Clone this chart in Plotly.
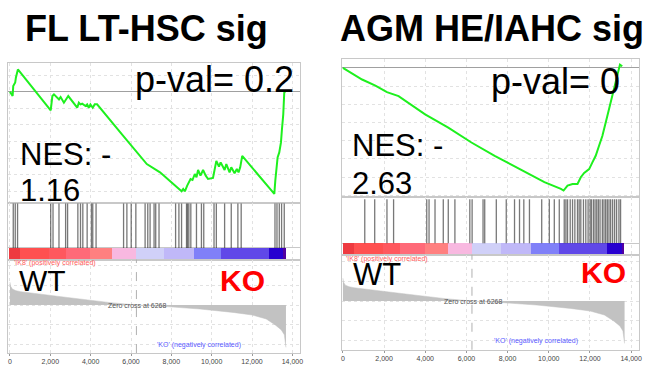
import plotly.graph_objects as go

W, H = 653, 365

# ---------------- data ----------------
rank_ticks = [0, 2000, 4000, 6000, 8000, 10000, 12000, 14000]
rank_tick_labels = ["0", "2,000", "4,000", "6,000", "8,000", "10,000", "12,000", "14,000"]
zero_cross = 6268
list_len = 13680

# FL LT-HSC running enrichment score (rank, ES)
fl_es_rank = [0, 133, 163, 261, 296, 394, 2020, 2103, 2182, 2430, 2512, 2675, 2890, 3335, 3415,
              3497, 3580, 3744, 3827, 3907, 3990, 4103, 4202, 4320, 5552, 6783, 7438, 8340,
              8507, 8587, 8670, 8785, 8884, 8950, 9049, 9162, 9246, 9325, 9443, 9572, 9704,
              9818, 10064, 10230, 10360, 10443, 10640, 10724, 10886, 10970, 11133, 11247,
              11330, 11413, 11512, 13103, 13152, 13266, 13349, 13433, 13482, 13547, 13596, 13640]
fl_es = [0.0, -0.026, 0.034, 0.056, 0.086, 0.134, -0.112, -0.026, -0.016, -0.046, -0.032, -0.066,
         -0.026, -0.096, -0.066, -0.076, -0.072, -0.086, -0.076, -0.096, -0.076, -0.096, -0.076,
         -0.076, -0.256, -0.435, -0.485, -0.585, -0.599, -0.585, -0.599, -0.565, -0.545, -0.525,
         -0.531, -0.495, -0.515, -0.471, -0.505, -0.471, -0.505, -0.525, -0.519, -0.416, -0.451,
         -0.425, -0.471, -0.435, -0.485, -0.455, -0.491, -0.465, -0.485, -0.455, -0.386, -0.615,
         -0.535, -0.395, -0.365, -0.305, -0.226, -0.136, -0.006, 0.0]
fl_hits = [164, 263, 378, 2020, 2135, 2430, 2759, 2857, 3366, 3497, 3612, 3826, 4039, 4105, 4269,
           5632, 5796, 6010, 6240, 6699, 6831, 6946, 7143, 7225, 7389, 8210, 8374, 8506, 8752,
           8801, 8867, 8965, 9245, 9491, 9606, 10115, 10230, 10640, 10969, 11297, 11461, 13136,
           13235, 13350, 13464, 13596]

# AGM HE/IAHC running enrichment score (rank, ES)
agm_es_rank = [0, 933, 1578, 2140, 2704, 3993, 5118, 6243, 7372, 8338, 8980, 9787, 10588, 10718,
               10911, 11153, 11394, 11554, 11717, 11959, 12118, 12278, 12441, 12601, 12843, 13084,
               13292, 13456, 13567]
agm_es = [0.0, -0.064, -0.097, -0.133, -0.155, -0.255, -0.328, -0.41, -0.483, -0.541, -0.583,
          -0.628, -0.665, -0.674, -0.647, -0.638, -0.638, -0.601, -0.577, -0.556, -0.519, -0.483,
          -0.428, -0.374, -0.264, -0.155, -0.064, 0.018, 0.009]
agm_hits = [1062, 1545, 2140, 2462, 4072, 4184, 4474, 4876, 5118, 5440, 6164, 6276, 6807, 6888,
            7451, 7934, 8336, 8578, 8787, 9061, 9656, 10026, 10268, 10509, 10750, 10831, 10911,
            11040, 11153, 11266, 11394, 11475, 11555, 11684, 11797, 11909, 12006, 12070, 12167,
            12247, 12328, 12408, 12489, 12601, 12681, 12762, 12843, 12923, 13004, 13100, 13197,
            13293, 13406, 13486]

# ranked list metric (shared ranking)
metric_rank = [0, 30, 120, 300, 540, 1530, 2840, 4980, 6268, 7760, 9410, 11050, 12000, 12700,
               13150, 13450, 13600, 13650, 13680]
metric_val = [1.15, 0.95, 0.8, 0.72, 0.67, 0.53, 0.38, 0.12, 0.0, -0.08, -0.2, -0.37, -0.5, -0.7,
              -1.0, -1.25, -1.5, -1.9, -2.13]

# colour strip of the ranked list
bar_edges = [0, 530, 1940, 2800, 3990, 5090, 6290, 7680, 9150, 10500, 12850, 13590, 13680]
bar_colors = ["#ee3a40", "#ff5050", "#ff585e", "#ff6a78", "#ff8080", "#f8b8e0", "#d0d0f8",
              "#c0b8f8", "#8080f8", "#6048e8", "#2800d0", "#5000a0"]

titles = ["FL LT-HSC sig", "AGM HE/IAHC sig"]
pvals = ["p-val= 0.2", "p-val= 0"]
nes = ["1.16", "2.63"]

# ---------------- layout helpers ----------------
FONT = "Arial, Liberation Sans, sans-serif"


def px(sx):
    return sx / W


def py(sy):
    return 1 - sy / H


panels = [
    dict(x0=7.5, x1=301, xr=[-74, 14384], es=(63.5, 203.7), es_r=[-0.667, 0.172],
         hit=(203.7, 261), hit_r=[-0.262, 1.022], met=(261, 355), met_r=[-2.415, 2.285],
         es_rank=fl_es_rank, es_val=fl_es, hits=fl_hits),
    dict(x0=343.3, x1=641.7, xr=[-34, 14370], es=(59.3, 198), es_r=[-0.709, 0.049],
         hit=(198, 256), hit_r=[-0.255, 1.052], met=(256, 351.7), met_r=[-2.45, 2.335],
         es_rank=agm_es_rank, es_val=agm_es, hits=agm_hits),
]

fig = go.Figure()
layout = dict(width=W, height=H, margin=dict(l=0, r=0, t=0, b=0),
              paper_bgcolor="white", plot_bgcolor="white", showlegend=False,
              font=dict(family=FONT), bargap=0)

LINE = "#c8c8c8"
GRID = "#e2e2e2"


def ax_name(n, letter):
    return letter + ("axis" if n == 1 else "axis%d" % n)


def ref(n, letter):
    return letter if n == 1 else "%s%d" % (letter, n)


shapes = []
for i, p in enumerate(panels):
    base = i * 3
    rows = [("es", p["es"], p["es_r"]), ("hit", p["hit"], p["hit_r"]), ("met", p["met"], p["met_r"])]
    for r, (kind, (top, bot), yr) in enumerate(rows):
        n = base + r + 1
        xa = dict(domain=[px(p["x0"]), px(p["x1"])], range=p["xr"], anchor=ref(n, "y"),
                  showline=True, mirror=True, linecolor=LINE, linewidth=1,
                  showgrid=True, gridcolor=GRID, griddash="dot", zeroline=False,
                  tickmode="array", tickvals=rank_ticks, ticktext=rank_tick_labels,
                  showticklabels=(kind == "met"), ticks="outside" if kind == "met" else "",
                  ticklen=2, tickcolor="#999", tickfont=dict(size=7, color="#444", family=FONT),
                  fixedrange=True)
        ya = dict(domain=[py(bot), py(top)], range=yr, anchor=ref(n, "x"),
                  showline=True, mirror=True, linecolor=LINE, linewidth=1,
                  showticklabels=False, ticks="", fixedrange=True)
        if kind == "es":
            ya.update(showgrid=True, gridcolor=GRID, griddash="dot", dtick=0.1, tick0=0,
                      zeroline=True, zerolinecolor="#a0a0a0", zerolinewidth=1)
        elif kind == "hit":
            ya.update(showgrid=False, zeroline=True, zerolinecolor=LINE, zerolinewidth=1)
        else:
            ya.update(showgrid=True, gridcolor=GRID, griddash="dot", dtick=1, tick0=0, zeroline=False)
        layout[ax_name(n, "x")] = xa
        layout[ax_name(n, "y")] = ya

    n_es, n_hit, n_met = base + 1, base + 2, base + 3

    # enrichment score curve
    fig.add_trace(go.Scatter(x=p["es_rank"], y=p["es_val"], mode="lines",
                             line=dict(color="rgb(30,240,30)", width=2),
                             xaxis=ref(n_es, "x"), yaxis=ref(n_es, "y"), hoverinfo="skip"))

    # hit lines
    hx, hy = [], []
    for h in p["hits"]:
        hx += [h, h, None]
        hy += [0, 1, None]
    fig.add_trace(go.Scatter(x=hx, y=hy, mode="lines",
                             line=dict(color="rgba(30,30,30,0.6)", width=1.3),
                             xaxis=ref(n_hit, "x"), yaxis=ref(n_hit, "y"), hoverinfo="skip"))

    # colour strip
    bottom = p["hit_r"][0]
    centers = [(a + b) / 2 for a, b in zip(bar_edges[:-1], bar_edges[1:])]
    widths = [b - a for a, b in zip(bar_edges[:-1], bar_edges[1:])]
    fig.add_trace(go.Bar(x=centers, y=[-bottom] * len(centers), base=bottom, width=widths,
                         marker=dict(color=bar_colors, line=dict(width=0)),
                         xaxis=ref(n_hit, "x"), yaxis=ref(n_hit, "y"), hoverinfo="skip"))

    # ranked list metric
    fig.add_trace(go.Scatter(x=metric_rank, y=metric_val, mode="lines", fill="tozeroy",
                             fillcolor="#c2c2c2", line=dict(color="#c2c2c2", width=0.5),
                             xaxis=ref(n_met, "x"), yaxis=ref(n_met, "y"), hoverinfo="skip"))

    shapes.append(dict(type="line", xref=ref(n_met, "x"), yref=ref(n_met, "y") + " domain",
                       x0=zero_cross, x1=zero_cross, y0=0, y1=1,
                       line=dict(color="#b0b0b0", width=1, dash="dash")))

annotations = []


def ann(text, sx, sy, size, color="black", bold=False, xanchor="center"):
    if bold:
        text = "<b>%s</b>" % text
    annotations.append(dict(text=text, x=px(sx), y=py(sy), xref="paper", yref="paper",
                            xanchor=xanchor, yanchor="middle", showarrow=False, borderpad=0,
                            font=dict(size=size, color=color, family=FONT)))


# titles
ann(titles[0], 146, 29, 36, bold=True)
ann(titles[1], 494, 29, 36, bold=True)

# p-values
ann(pvals[0], 296, 80, 36, xanchor="right")
ann(pvals[1], 624, 82, 36, xanchor="right")

# NES
ann("NES: -", 18, 155, 31, xanchor="left")
ann(nes[0], 18, 192, 31, xanchor="left")
ann("NES: -", 352, 146, 31, xanchor="left")
ann(nes[1], 352, 185, 31, xanchor="left")

# WT / KO
ann("WT", 41.5, 282, 30)
ann("WT", 378, 276, 31)
ann("KO", 243.3, 282, 30, color="#ff0000", bold=True)
ann("KO", 606.7, 274.5, 30, color="#ff0000", bold=True)

# small GSEA labels
for sx_l, sy_l, sx_z, sy_z, sx_k, sy_k in [(11.7, 264.5, 136.7, 307.3, 199.5, 346.7),
                                            (346, 260.2, 474.5, 302.7, 538, 342.7)]:
    ann("'IK8' (positively correlated)", sx_l, sy_l, 7, color="#ff5a5a", xanchor="left")
    ann("Zero cross at %d" % zero_cross, sx_z, sy_z, 7, color="#555555")
    ann("'KO' (negatively correlated)", sx_k, sy_k, 7, color="#5a5aff")

layout["annotations"] = annotations
layout["shapes"] = shapes
fig.update_layout(**layout)
fig.write_html("out.html")
